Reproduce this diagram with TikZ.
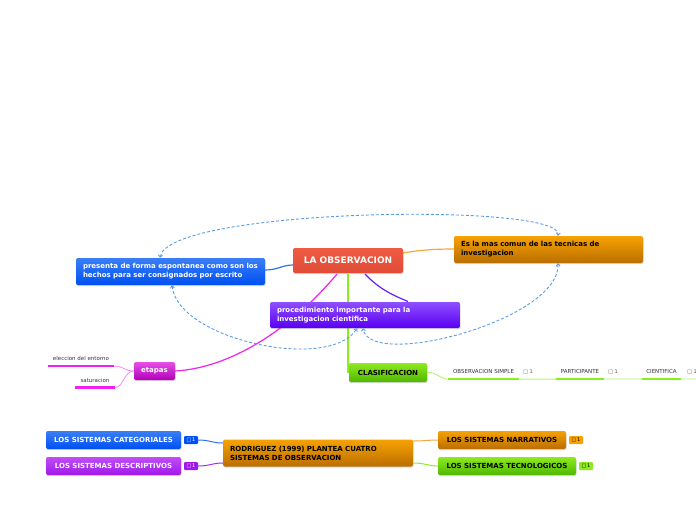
\documentclass[tikz,border=0pt]{standalone}
\usepackage{fontspec}
\setmainfont{DejaVu Sans}
\usetikzlibrary{arrows.meta,shadows}
\definecolor{redT}{HTML}{EE5A43}
\definecolor{redB}{HTML}{E04C36}
\definecolor{orT}{HTML}{F7A200}
\definecolor{orB}{HTML}{B96E00}
\definecolor{blT}{HTML}{3A7EF7}
\definecolor{blB}{HTML}{0050F2}
\definecolor{puT}{HTML}{8E4FFF}
\definecolor{puB}{HTML}{5A00F2}
\definecolor{maT}{HTML}{E650E6}
\definecolor{maB}{HTML}{B000B8}
\definecolor{grT}{HTML}{8EEA20}
\definecolor{grB}{HTML}{50B800}
\definecolor{viT}{HTML}{C04EF7}
\definecolor{viB}{HTML}{A018E8}
\definecolor{relblue}{HTML}{5A9BE6}
\definecolor{lnblue}{HTML}{3070F0}
\definecolor{lnor}{HTML}{F5A83A}
\definecolor{lnpu}{HTML}{6A1BFF}
\definecolor{lnma}{HTML}{F020F0}
\definecolor{lnmalight}{HTML}{F58AF5}
\definecolor{lngr}{HTML}{88F020}
\definecolor{lngrlight}{HTML}{B2F270}
\definecolor{lnvi}{HTML}{A030F0}
\begin{document}
\begin{tikzpicture}[x=1pt,y=-1pt,
  box/.style={rounded corners=2pt,inner sep=0pt,font=\fontsize{7}{9}\selectfont\bfseries,
    drop shadow={shadow xshift=0.6pt,shadow yshift=-1.2pt,opacity=0.3}},
  widebox/.style={box,inner xsep=7pt,text width=#1,align=left,minimum height=27pt},
  linebox/.style={box,minimum width=#1,minimum height=18pt},
  sub/.style={inner xsep=5pt,inner ysep=0pt,text height=4pt,text depth=1pt,
    font=\fontsize{5.5}{6}\selectfont,text=black!80},
  badge/.style={rounded corners=1pt,inner sep=0pt,minimum width=14pt,minimum height=8pt,
    font=\fontsize{5}{5}\selectfont},
  cnt/.style={inner sep=0pt,font=\fontsize{5}{5}\selectfont,text=black!70},
  rel/.style={draw=relblue,dash pattern=on 3pt off 2pt,line width=0.9pt,
    {Straight Barb[length=2.2pt,width=4pt]}-{Straight Barb[length=2.2pt,width=4pt]}},
  conn/.style={line width=1.2pt}
]
\useasboundingbox (0,0) rectangle (696,520);

% ---- main connectors (behind nodes)
\coordinate (mgo) at (337,274);
\draw[conn,lnma] (mgo) .. controls (290,330) and (230,368) .. (175,371);
\draw[conn,lngr] (348,274) -- (348,372.5);
\draw[conn,lnpu] (365,274) .. controls (380,290) and (395,296) .. (408,301.5);
\draw[conn,lnblue] (265,270) .. controls (278,270) and (282,265) .. (293,265);
\draw[conn,lnor] (403,253) .. controls (420,250) and (435,249) .. (454,249);

% ---- nodes
\node[box,minimum width=110pt,minimum height=25pt,top color=redT,bottom color=redB,
  text=white,font=\fontsize{9}{10}\selectfont\bfseries] (main) at (348,260.5) {LA OBSERVACION};
\node[widebox=175pt,top color=orT,bottom color=orB,text=black] (comun) at (548.5,249.5)
  {Es la mas comun de las tecnicas de\\investigacion};
\node[widebox=175pt,top color=blT,bottom color=blB,text=white] (presenta) at (170.5,271.5)
  {presenta de forma espontanea como son los\\hechos para ser consignados por escrito};
\node[widebox=176pt,minimum height=26pt,top color=puT,bottom color=puB,text=white] (proc) at (365,315)
  {procedimiento importante para la\\investigacion cientifica};
\node[linebox=41pt,top color=maT,bottom color=maB,text=white] (etapas) at (154.5,371) {etapas};
\node[linebox=78pt,minimum height=19pt,top color=grT,bottom color=grB,text=black] (clas) at (388,372.5) {CLASIFICACION};

% ---- etapas sub topics
\node[sub] (elec) at (81,359) {eleccion del entorno};
\node[sub] (satur) at (95,380.5) {saturacion};
\draw[lnmalight,line width=0.8pt] (etapas.west) .. controls (124,371) and (124,366) .. ([yshift=-4.5pt]elec.south east);
\draw[lnmalight,line width=0.8pt] (etapas.west) .. controls (124,371) and (124,387) .. ([yshift=-4.5pt]satur.south east);
\draw[lnma,line width=2.5pt] ([yshift=-4.5pt]elec.south west) -- ([yshift=-4.5pt]elec.south east);
\draw[lnma,line width=2.5pt] ([yshift=-4.5pt]satur.south west) -- ([yshift=-4.5pt]satur.south east);

% ---- clasificacion sub topics
\node[sub,inner xsep=4.5pt] (osimple) at (483.5,372) {OBSERVACION SIMPLE};
\node[sub,inner xsep=4.5pt] (partic) at (580,372) {PARTICIPANTE};
\node[sub,inner xsep=4.5pt] (cient) at (661.5,372) {CIENTIFICA};
\coordinate (redge) at (696,379);
\draw[lngrlight,line width=0.8pt] (clas.east) .. controls (437,372) and (440,379) .. ([yshift=-4.5pt]osimple.south west) -- (redge);
\foreach \n in {osimple,partic,cient}
  \draw[lngr,line width=2.5pt] ([yshift=-4.5pt]\n.south west) -- ([yshift=-4.5pt]\n.south east);
\node[cnt] (c1) at (528,372) {□ 1};
\node[cnt] (c2) at (613,372) {□ 1};
\node[cnt] (c3) at (692,372) {□ 1};

% ---- relationships (dashed)
\draw[rel] ([xshift=-10.5pt]presenta.north) .. controls (168,208) and (562,202) .. ([xshift=9.5pt]comun.north);
\draw[rel] ([xshift=1.5pt]presenta.south) .. controls (178,340) and (330,372) .. ([xshift=-8pt]proc.south);
\draw[rel] ([xshift=9.5pt]comun.south) .. controls (560,320) and (370,370) .. ([xshift=-2pt]proc.south);

% ---- bottom group
\node[widebox=176pt,top color=orT,bottom color=orB,text=black] (rodri) at (318,453)
  {RODRIGUEZ (1999) PLANTEA CUATRO\\SISTEMAS DE OBSERVACION};
\node[linebox=135pt,top color=blT,bottom color=blB,text=white] (categ) at (113.5,440) {LOS SISTEMAS CATEGORIALES};
\node[linebox=135pt,top color=viT,bottom color=viB,text=white] (descr) at (113.5,466) {LOS SISTEMAS DESCRIPTIVOS};
\node[linebox=128pt,top color=orT,bottom color=orB,text=black] (narr) at (502,440) {LOS SISTEMAS NARRATIVOS};
\node[linebox=138pt,top color=grT,bottom color=grB,text=black] (tecno) at (507,466) {LOS SISTEMAS TECNOLOGICOS};
\node[badge,fill=blB,text=white] (bcat) at (191,440) {□\,1};
\node[badge,fill=viB,text=white] (bdes) at (191,466) {□\,1};
\node[badge,fill=orT,text=black] (bnar) at (576,440) {□\,1};
\node[badge,fill=grT,text=black] (btec) at (586,466) {□\,1};
\draw[lnblue,line width=1pt] (bcat.east) .. controls (210,440) and (212,443) .. ([yshift=10pt]rodri.west);
\draw[lnvi,line width=1pt] (bdes.east) .. controls (210,466) and (212,463) .. ([yshift=-10pt]rodri.west);
\draw[lnor,line width=1pt] ([yshift=12pt]rodri.east) .. controls (425,441) and (428,440) .. (narr.west);
\draw[lngr,line width=1pt] ([yshift=-10pt]rodri.east) .. controls (425,463) and (428,466) .. (tecno.west);
\end{tikzpicture}
\end{document}
